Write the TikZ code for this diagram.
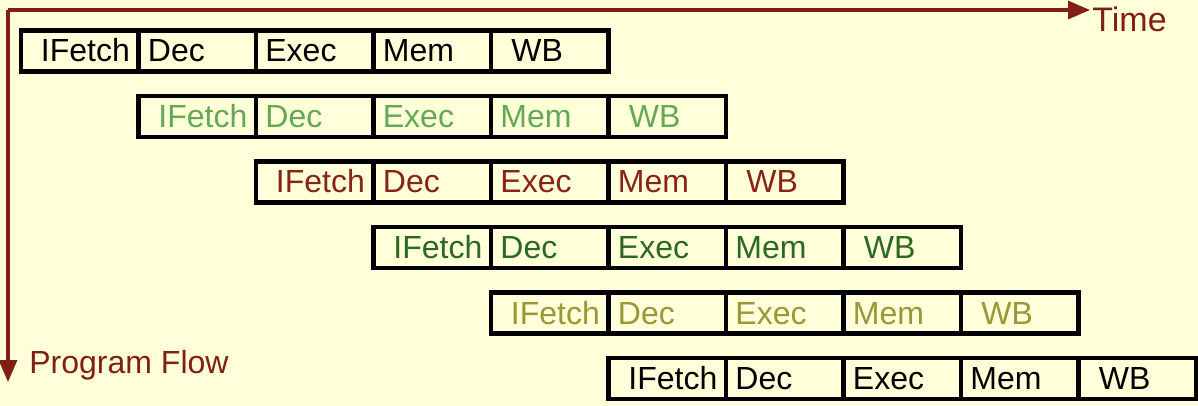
\documentclass[tikz,border=0pt]{standalone}
\usepackage{fontspec}
\setmainfont{Liberation Sans}
\usetikzlibrary{arrows.meta,calc}
\definecolor{bgcream}{RGB}{255,255,217}
\definecolor{axisred}{RGB}{128,32,18}
\definecolor{instgreen}{RGB}{100,168,84}
\definecolor{instred}{RGB}{136,36,22}
\definecolor{instdkgreen}{RGB}{44,104,32}
\definecolor{instolive}{RGB}{152,152,52}
\tikzset{
  stagebox/.style={draw=black, line width=2.25pt, minimum width=58.75pt,
    minimum height=20.5pt, inner sep=0pt, outer sep=0pt},
  stagetext/.style={anchor=base west, inner sep=0pt, font=\fontsize{16}{18}\selectfont},
  axisline/.style={draw=axisred, line width=1.6pt, -{Triangle[length=11pt,width=9pt]}},
  axistext/.style={anchor=base west, inner sep=0pt, text=axisred}
}
\begin{document}
\begin{tikzpicture}[x=0.5pt,y=-0.5pt]
  \fill[bgcream] (0,0) rectangle (1198,406);
  \useasboundingbox (0,0) rectangle (1198,406);
  % axes
  \coordinate (origin) at (8,10);
  \coordinate (timeend) at (1090,10);
  \coordinate (flowend) at (8,382);
  \draw[axisline] (origin) -- (timeend);
  \draw[axisline] (origin) -- (flowend);
  \node[axistext, font=\fontsize{17}{20}\selectfont] (timelabel) at (1092,32) {Time};
  \node[axistext, font=\fontsize{16}{18}\selectfont] (flowlabel) at (29,373) {Program Flow};
  % pipeline stages
  \foreach \row/\col in {0/black,1/instgreen,2/instred,3/instdkgreen,4/instolive,5/black} {
    \foreach \stage/\name/\pad in {0/IFetch/19.5,1/Dec/9,2/Exec/9,3/Mem/9,4/WB/20} {
      \node[stagebox, anchor=north west] (s\row\stage)
        at ({21+117.5*(\row+\stage)},{30.5+65.5*\row}) {};
      \node[stagetext, text=\col] (t\row\stage) at ($(s\row\stage.west)+(\pad,11)$) {\name};
    }
  }
\end{tikzpicture}
\end{document}
